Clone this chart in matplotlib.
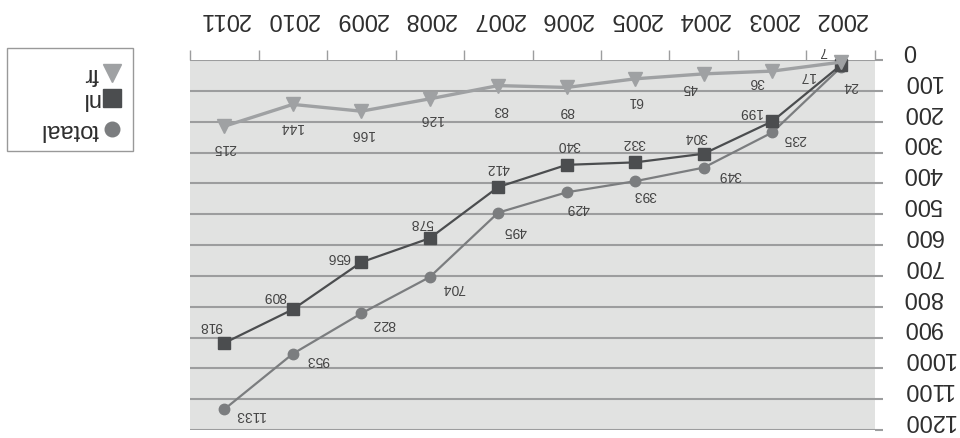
import matplotlib.pyplot as plt
from matplotlib.patches import Rectangle
from matplotlib.transforms import ScaledTranslation

plt.rcParams['font.family'] = ['Liberation Sans', 'DejaVu Sans']

# the reference picture is turned upside down, so everything is drawn rotated by 180 degrees
years = ['2002', '2003', '2004', '2005', '2006', '2007', '2008', '2009', '2010', '2011']
totaal = [24, 235, 349, 393, 429, 495, 704, 822, 953, 1133]
nl = [17, 199, 304, 332, 340, 412, 578, 656, 809, 918]
fr = [7, 36, 45, 61, 89, 83, 126, 166, 144, 215]
y_ticks = list(range(0, 1300, 100))

# label offsets in pixels (dx to the right, dy downwards in the picture)
totaal_off = [(10, 18), (22, 6), (26, 6), (10, 13), (11, 15), (17, 17), (24, 10), (22, 10), (25, 5), (26, 5)]
nl_off = [(-33, 10), (-22, -10), (-8, -18), (-2, -20), (2, -21), (0, -20), (-8, -16), (-23, -6), (-18, -14), (-13, -18)]
fr_off = [(-17, -12), (-16, 10), (-14, 13), (0, 21), (0, 23), (2, 23), (2, 19), (1, 22), (-1, 22), (0, 21)]

c_totaal = '#7b7d7f'
c_nl = '#4b4d4f'
c_fr = '#9fa1a3'
c_grid = '#9c9d9e'
c_text = '#2e2e2e'

W, H = 960, 439
fig = plt.figure(figsize=(W / 100, H / 100), dpi=100)

# overlay in pixel coords for the legend box
lax = fig.add_axes([0, 0, 1, 1], zorder=0)
lax.set_xlim(0, W)
lax.set_ylim(H, 0)
lax.axis('off')

ax = fig.add_axes([190 / W, (H - 431) / H, 685 / W, 370 / H], zorder=1)
ax.set_facecolor('#e1e2e1')
for s in ax.spines.values():
    s.set_visible(False)

x = list(range(len(years)))
series = [
    ('totaal', totaal, c_totaal, 'o', 7.5, 1.6, totaal_off),
    ('nl', nl, c_nl, 's', 8, 1.6, nl_off),
    ('fr', fr, c_fr, 'v', 9.5, 2.4, fr_off),
]
for name, vals, col, mk, ms, lw, offs in series:
    ax.plot(x, vals, color=col, marker=mk, markersize=ms, linewidth=lw, zorder=3, clip_on=False)
    for xi, v, (dx, dy) in zip(x, vals, offs):
        ax.annotate(str(v), (xi, v), xytext=(dx, -dy), textcoords='offset pixels',
                    ha='center', va='center', rotation=180, fontsize=10, color='#444444',
                    zorder=4)

ax.set_xlim(len(years) - 0.5, -0.5)
ax.set_ylim(1200, 0)

ax.set_yticks(y_ticks)
ax.set_yticklabels([str(t) for t in y_ticks])
ax.yaxis.tick_right()
ax.tick_params(axis='y', length=6, width=1.5, color=c_grid, pad=14, labelsize=17, labelcolor=c_text)
ax.grid(axis='y', color=c_grid, linewidth=1.5)
ax.set_axisbelow(True)

ax.xaxis.tick_top()
ax.set_xticks([i - 0.5 for i in range(len(years) + 1)])
ax.set_xticklabels([])
ax.set_xticks(x, minor=True)
ax.set_xticklabels(years, minor=True)
ax.tick_params(axis='x', which='major', length=7, width=1, color=c_grid, top=True, bottom=False)
ax.tick_params(axis='x', which='minor', length=0, pad=30, labelsize=17, labelcolor=c_text,
               top=True, bottom=False, labeltop=True, labelbottom=False)

# turn the tick labels upside down; the y labels sit a bit above their gridline
shift_up = ScaledTranslation(0, 11 / 100, fig.dpi_scale_trans)
for t in ax.yaxis.get_major_ticks():
    t.label2.set_rotation(180)
    t.label2.set_ha('left')
    t.label2.set_va('center')
    t.label2.set_transform(t.label2.get_transform() + shift_up)
for t in ax.xaxis.get_minor_ticks():
    t.label2.set_rotation(180)
    t.label2.set_ha('center')
    t.label2.set_va('center')

# legend (upside down as in the picture)
lax.add_patch(Rectangle((7, 49), 126, 103, facecolor='white', edgecolor='#999999', linewidth=1))
leg_rows = [('fr', c_fr, 'v', 13, 74), ('nl', c_nl, 's', 13, 99), ('totaal', c_totaal, 'o', 10.5, 130)]
for name, col, mk, ms, yy in leg_rows:
    lax.plot([112], [yy], marker=mk, color=col, markersize=ms, linestyle='none')
    lax.text(99, yy, name, rotation=180, ha='right', va='center', fontsize=17, color=c_text)

fig.savefig('out.png', dpi=100)
